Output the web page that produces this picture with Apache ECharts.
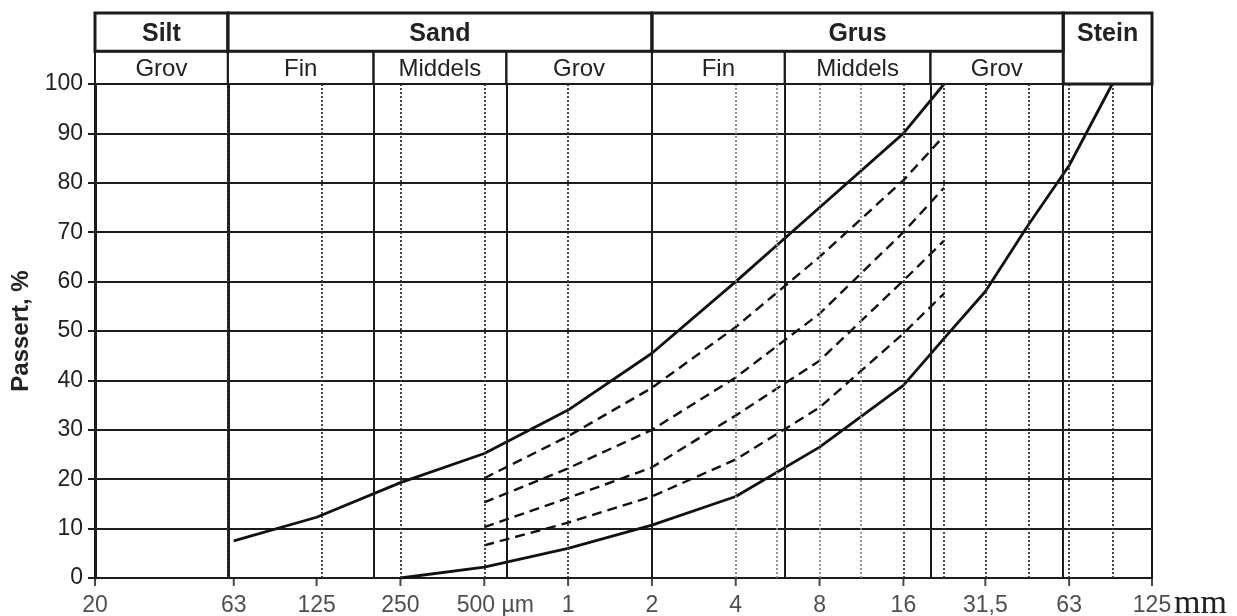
<!DOCTYPE html>
<html><head><meta charset="utf-8">
<script src="https://cdn.jsdelivr.net/npm/echarts@6/dist/echarts.min.js"></script>
<style>html,body{margin:0;padding:0;background:#fff}#c{width:1237px;height:616px}</style>
</head><body><div id="c"></div>
<script>
// ---- data ----
const xTickValues = [0.02, 0.063, 0.125, 0.25, 0.5, 1, 2, 4, 8, 16, 31.5, 63, 125];
const xTickLabels = ['20', '63', '125', '250', '500 µm', '1', '2', '4', '8', '16', '31,5', '63', '125'];
const fractionBounds = [0.06, 0.2, 0.6, 2, 6, 20, 60];
const sieveSizes = [0.063, 0.125, 0.25, 0.5, 1, 4, 5.6, 8, 11.2, 16, 22.4, 31.5, 45, 63, 90];
const lightSieves = [4, 5.6, 8, 11.2];

const mainNames = ['Silt', 'Sand', 'Grus', 'Stein'];
const mainFrom = [0.02, 0.06, 2, 60];
const mainTo = [0.06, 2, 60, 125];
const subNames = ['Grov', 'Fin', 'Middels', 'Grov', 'Fin', 'Middels', 'Grov'];
const subFrom = [0.02, 0.06, 0.2, 0.6, 2, 6, 20];
const subTo = [0.06, 0.2, 0.6, 2, 6, 20, 60];

const upperX = [0.063, 0.125, 0.25, 0.5, 1, 2, 4, 8, 16, 22.4];
const upperY = [7.5, 12.3, 19.3, 25.2, 34, 45.5, 60, 75, 90, 100];
const lowerX = [0.25, 0.5, 1, 2, 4, 8, 16, 22.4, 31.5, 45, 63, 90];
const lowerY = [0, 2.2, 6, 10.7, 16.5, 26.5, 39, 48.5, 58, 71.5, 83.5, 100];
const dashX = [0.5, 1, 2, 4, 8, 16, 22.4];
const dash1Y = [20.2, 28.7, 38.5, 50.8, 65, 80.5, 89.5];
const dash2Y = [15.3, 22.2, 30, 40.6, 53.5, 70, 79];
const dash3Y = [10.3, 16.2, 22.4, 32.9, 44, 60.2, 68.3];
const dash4Y = [6.6, 11.2, 16.5, 24, 34.5, 49.5, 57.6];

// ---- layout / style ----
const FONT = 'Liberation Sans, Arial, Helvetica, sans-serif';
const INK = '#1c1c1c';
const ROW_SPLIT = 0.46; // share of header height taken by lower header row
const UNIT_PAD = 22;

const zip = (xs, ys) => xs.map((x, i) => [x, ys[i]]);
const coverEnd = Math.max(...subTo);

const headerData = [];
subNames.forEach((n, i) => headerData.push([subFrom[i], subTo[i], 0, ROW_SPLIT, 1, i]));
mainNames.forEach((n, i) => {
  const full = mainFrom[i] >= coverEnd;
  headerData.push([mainFrom[i], mainTo[i], full ? 0 : ROW_SPLIT, 1, 0, i]);
});

function renderHeader(params, api) {
  const x0 = api.value(0), x1 = api.value(1), lo = api.value(2), hi = api.value(3);
  const kind = api.value(4), idx = api.value(5);
  const a = api.coord([x0, hi]), b = api.coord([x1, lo]);
  const name = kind === 0 ? mainNames[idx] : subNames[idx];
  const rowMid = kind === 0 ? (ROW_SPLIT + 1) / 2 : ROW_SPLIT / 2;
  const ty = api.coord([x0, rowMid])[1] + 2;
  return {
    type: 'group',
    children: [
      { type: 'rect', shape: { x: a[0], y: a[1], width: b[0] - a[0], height: b[1] - a[1] },
        style: { fill: 'none', stroke: INK, lineWidth: kind === 0 ? 3 : 2 } },
      { type: 'text', style: { text: name, x: (a[0] + b[0]) / 2, y: ty, align: 'center', verticalAlign: 'middle',
        fontFamily: FONT, fontSize: kind === 0 ? 25 : 24, fontWeight: kind === 0 ? 'bold' : 'normal', fill: '#222' } }
    ]
  };
}

const vLines = [];
fractionBounds.forEach(v => vLines.push({ xAxis: v, lineStyle: { type: 'solid', width: v === fractionBounds[0] ? 3 : 2, color: INK } }));
sieveSizes.forEach(v => vLines.push({ xAxis: v, lineStyle: { type: [2, 2], width: 1.8, color: lightSieves.includes(v) ? '#8a8a8a' : '#333' } }));

const chart = echarts.init(document.getElementById('c'), null, { renderer: 'canvas' });
chart.setOption({
  animation: false,
  backgroundColor: '#fff',
  grid: [
    { left: 95, right: 85, top: 84, bottom: 38, show: true, borderColor: INK, borderWidth: 2, outerBoundsMode: 'none', containLabel: false },
    { left: 95, right: 85, top: 13, height: 71, outerBoundsMode: 'none', containLabel: false }
  ],
  xAxis: [
    { type: 'log', logBase: 2, min: 0.02, max: 125, gridIndex: 0,
      axisLine: { show: true, lineStyle: { color: INK, width: 2 } },
      axisTick: { show: false }, axisLabel: { show: false }, splitLine: { show: false },
      name: 'mm', nameLocation: 'end', nameGap: 22,
      nameTextStyle: { fontFamily: 'Liberation Serif, Times New Roman, serif', fontSize: 34, color: '#222',
        align: 'left', verticalAlign: 'top', padding: [9, 0, 0, 0] } },
    { type: 'log', logBase: 2, min: 0.02, max: 125, gridIndex: 1, show: false }
  ],
  yAxis: [
    { type: 'value', min: 0, max: 100, interval: 10, gridIndex: 0,
      axisLine: { show: true, lineStyle: { color: INK, width: 3 } },
      axisTick: { show: true, length: 7, lineStyle: { color: INK, width: 2 } },
      axisLabel: { fontFamily: FONT, fontSize: 23, color: '#222', margin: 12 },
      splitLine: { show: true, lineStyle: { color: INK, width: 2.2 } },
      name: 'Passert, %', nameLocation: 'middle', nameRotate: 90, nameGap: 58,
      nameTextStyle: { fontFamily: FONT, fontSize: 24, fontWeight: 'bold', color: '#222' } },
    { type: 'value', min: 0, max: 1, gridIndex: 1, show: false }
  ],
  series: [
    { type: 'line', xAxisIndex: 0, yAxisIndex: 0, data: [], z: 1, silent: true,
      markLine: { symbol: ['none', 'none'], silent: true, label: { show: false }, data: vLines } },
    { type: 'custom', xAxisIndex: 1, yAxisIndex: 1, renderItem: renderHeader, data: headerData,
      encode: { x: [0, 1], y: [2, 3] }, clip: false, silent: true, z: 5 },
    { type: 'line', data: zip(upperX, upperY), symbol: 'none', z: 4, lineStyle: { color: '#111', width: 2.8 } },
    { type: 'line', data: zip(lowerX, lowerY), symbol: 'none', z: 4, lineStyle: { color: '#111', width: 2.8 } },
    { type: 'line', data: zip(dashX, dash1Y), symbol: 'none', z: 4, lineStyle: { color: '#111', width: 2.4, type: [10, 6] } },
    { type: 'line', data: zip(dashX, dash2Y), symbol: 'none', z: 4, lineStyle: { color: '#111', width: 2.4, type: [10, 6] } },
    { type: 'line', data: zip(dashX, dash3Y), symbol: 'none', z: 4, lineStyle: { color: '#111', width: 2.4, type: [10, 6] } },
    { type: 'line', data: zip(dashX, dash4Y), symbol: 'none', z: 4, lineStyle: { color: '#111', width: 2.4, type: [10, 6] } },
    { type: 'scatter', data: xTickValues.map(v => [v, 0]), symbol: 'rect', symbolSize: [2, 8], symbolOffset: [0, 4],
      itemStyle: { color: INK }, clip: false, silent: true, z: 6,
      label: { show: true, position: 'bottom', distance: 8, fontFamily: FONT, fontSize: 23, color: '#222',
        formatter: p => { const t = xTickLabels[p.dataIndex]; return t.indexOf(' ') >= 0 ? '{pad|}' + t : t; },
        rich: { pad: { width: UNIT_PAD } } } }
  ]
});
</script></body></html>
